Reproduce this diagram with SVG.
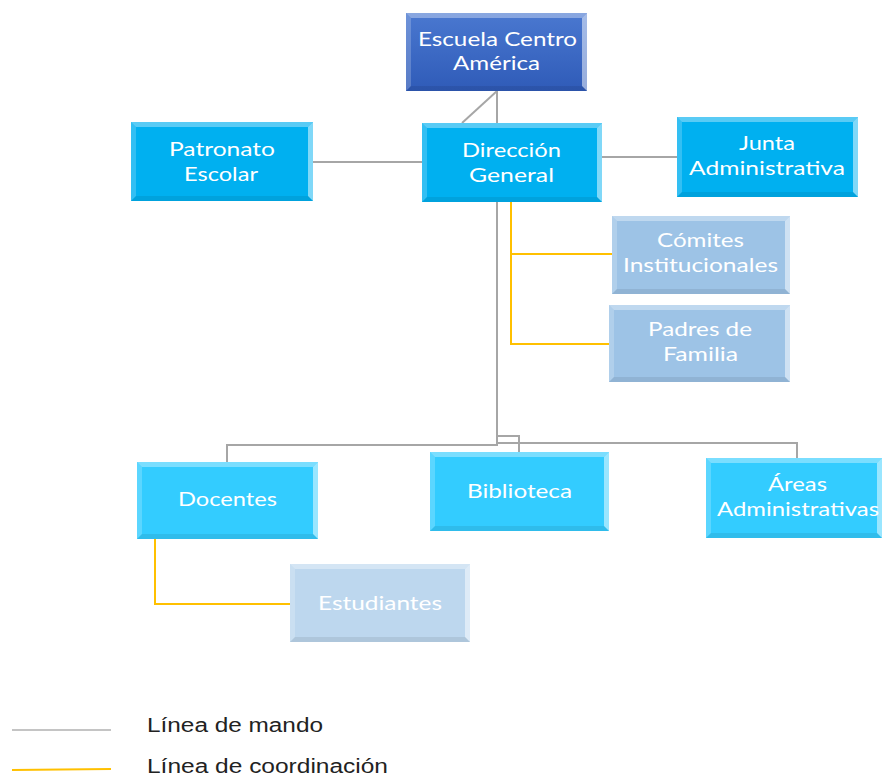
<svg xmlns="http://www.w3.org/2000/svg" width="882" height="777" viewBox="0 0 882 777">
<style>
.lbl{font-family:Lato,"Open Sans",sans-serif;font-size:20px;fill:#ffffff;text-anchor:middle}
.cmd{stroke:#a6a6a6;stroke-width:2;fill:none}
.crd{stroke:#ffc000;stroke-width:2;fill:none}
.hi{fill:#ffffff;opacity:0.35}
.hi2{fill:#ffffff;opacity:0.2}
.hiR{fill:#ffffff;opacity:0.5}
.sh{fill:#000000;opacity:0.08}
.leg{font-family:"Liberation Sans",Arial,sans-serif;font-size:20px;fill:#222222}
</style>
<defs>
<linearGradient id="gDark" x1="0" y1="0" x2="0" y2="1">
<stop offset="0" stop-color="#4a78d0"/><stop offset="1" stop-color="#2f5bb8"/>
</linearGradient>
</defs>
<rect width="882" height="777" fill="#ffffff"/>
<g id="connectors">
<line class="cmd" x1="497" y1="91" x2="497" y2="123"/>
<line class="cmd" x1="497" y1="91" x2="462" y2="123"/>
<line class="cmd" x1="313" y1="162" x2="422" y2="162"/>
<line class="cmd" x1="602" y1="157" x2="677" y2="157"/>
<polyline class="cmd" points="497,202 497,445 227,445 227,462"/>
<polyline class="cmd" points="497,436 519,436 519,452"/>
<polyline class="cmd" points="497,443 797,443 797,459"/>
<polyline class="crd" points="511,202 511,344 609,344"/>
<line class="crd" x1="511" y1="254" x2="612" y2="254"/>
<polyline class="crd" points="155,539 155,604 290,604"/>
</g>
<g id="escuela">
<rect x="406" y="13" width="181" height="78" fill="url(#gDark)"/>
<path class="hi" d="M406,13 H587 L582,18 H411 Z"/>
<path class="hi2" d="M406,13 L411,18 V86 L406,91 Z"/>
<path class="hiR" d="M587,13 V91 L582,86 V18 Z"/>
<path class="sh" d="M406,91 H587 L582,86 H411 Z"/>
<text class="lbl" x="497.5" y="46" textLength="159" lengthAdjust="spacingAndGlyphs">Escuela Centro</text>
<text class="lbl" x="496.5" y="70" textLength="87" lengthAdjust="spacingAndGlyphs">América</text>
</g>
<g id="direccion">
<rect x="422" y="123" width="180" height="79" fill="#00b0f0"/>
<path class="hi" d="M422,123 H602 L597,128 H427 Z"/>
<path class="hi2" d="M422,123 L427,128 V197 L422,202 Z"/>
<path class="hiR" d="M602,123 V202 L597,197 V128 Z"/>
<path class="sh" d="M422,202 H602 L597,197 H427 Z"/>
<text class="lbl" x="511.5" y="157" textLength="99" lengthAdjust="spacingAndGlyphs">Dirección</text>
<text class="lbl" x="511.5" y="182" textLength="85" lengthAdjust="spacingAndGlyphs">General</text>
</g>
<g id="patronato">
<rect x="131" y="122" width="182" height="79" fill="#00b0f0"/>
<path class="hi" d="M131,122 H313 L308,127 H136 Z"/>
<path class="hi2" d="M131,122 L136,127 V196 L131,201 Z"/>
<path class="hiR" d="M313,122 V201 L308,196 V127 Z"/>
<path class="sh" d="M131,201 H313 L308,196 H136 Z"/>
<text class="lbl" x="222" y="156" textLength="106" lengthAdjust="spacingAndGlyphs">Patronato</text>
<text class="lbl" x="221" y="181" textLength="74" lengthAdjust="spacingAndGlyphs">Escolar</text>
</g>
<g id="junta">
<rect x="677" y="117" width="181" height="80" fill="#00b0f0"/>
<path class="hi" d="M677,117 H858 L853,122 H682 Z"/>
<path class="hi2" d="M677,117 L682,122 V192 L677,197 Z"/>
<path class="hiR" d="M858,117 V197 L853,192 V122 Z"/>
<path class="sh" d="M677,197 H858 L853,192 H682 Z"/>
<text class="lbl" x="767" y="150" textLength="56" lengthAdjust="spacingAndGlyphs">Junta</text>
<text class="lbl" x="767" y="175" textLength="156" lengthAdjust="spacingAndGlyphs">Administrativa</text>
</g>
<g id="comites">
<rect x="612" y="216" width="178" height="78" fill="#9dc3e6"/>
<path class="hi" d="M612,216 H790 L785,221 H617 Z"/>
<path class="hi2" d="M612,216 L617,221 V289 L612,294 Z"/>
<path class="hiR" d="M790,216 V294 L785,289 V221 Z"/>
<path class="sh" d="M612,294 H790 L785,289 H617 Z"/>
<text class="lbl" x="700.5" y="247" textLength="87" lengthAdjust="spacingAndGlyphs">Cómites</text>
<text class="lbl" x="700.5" y="272" textLength="155" lengthAdjust="spacingAndGlyphs">Institucionales</text>
</g>
<g id="padres">
<rect x="609" y="305" width="181" height="77" fill="#9dc3e6"/>
<path class="hi" d="M609,305 H790 L785,310 H614 Z"/>
<path class="hi2" d="M609,305 L614,310 V377 L609,382 Z"/>
<path class="hiR" d="M790,305 V382 L785,377 V310 Z"/>
<path class="sh" d="M609,382 H790 L785,377 H614 Z"/>
<text class="lbl" x="700" y="336" textLength="104" lengthAdjust="spacingAndGlyphs">Padres de</text>
<text class="lbl" x="700.5" y="361" textLength="75" lengthAdjust="spacingAndGlyphs">Familia</text>
</g>
<g id="docentes">
<rect x="137" y="462" width="181" height="77" fill="#33ccff"/>
<path class="hi" d="M137,462 H318 L313,467 H142 Z"/>
<path class="hi2" d="M137,462 L142,467 V534 L137,539 Z"/>
<path class="hiR" d="M318,462 V539 L313,534 V467 Z"/>
<path class="sh" d="M137,539 H318 L313,534 H142 Z"/>
<text class="lbl" x="227.5" y="506" textLength="99" lengthAdjust="spacingAndGlyphs">Docentes</text>
</g>
<g id="biblioteca">
<rect x="430" y="452" width="179" height="79" fill="#33ccff"/>
<path class="hi" d="M430,452 H609 L604,457 H435 Z"/>
<path class="hi2" d="M430,452 L435,457 V526 L430,531 Z"/>
<path class="hiR" d="M609,452 V531 L604,526 V457 Z"/>
<path class="sh" d="M430,531 H609 L604,526 H435 Z"/>
<text class="lbl" x="519.5" y="498" textLength="105" lengthAdjust="spacingAndGlyphs">Biblioteca</text>
</g>
<g id="areas">
<rect x="706" y="458" width="176" height="80" fill="#33ccff"/>
<path class="hi" d="M706,458 H882 L877,463 H711 Z"/>
<path class="hi2" d="M706,458 L711,463 V533 L706,538 Z"/>
<path class="hiR" d="M882,458 V538 L877,533 V463 Z"/>
<path class="sh" d="M706,538 H882 L877,533 H711 Z"/>
<text class="lbl" x="797.5" y="491" textLength="59" lengthAdjust="spacingAndGlyphs">Áreas</text>
<text class="lbl" x="798" y="516" textLength="162" lengthAdjust="spacingAndGlyphs">Administrativas</text>
</g>
<g id="estudiantes">
<rect x="290" y="564" width="180" height="78" fill="#bdd7ee"/>
<path class="hi" d="M290,564 H470 L465,569 H295 Z"/>
<path class="hi2" d="M290,564 L295,569 V637 L290,642 Z"/>
<path class="hiR" d="M470,564 V642 L465,637 V569 Z"/>
<path class="sh" d="M290,642 H470 L465,637 H295 Z"/>
<text class="lbl" x="380" y="610" textLength="124" lengthAdjust="spacingAndGlyphs">Estudiantes</text>
</g>
<g id="legend">
<line x1="12" y1="730" x2="111" y2="730" stroke="#b0b0b0" stroke-width="1.5"/>
<text class="leg" x="147" y="732" textLength="176" lengthAdjust="spacingAndGlyphs">Línea de mando</text>
<line x1="12" y1="770" x2="111" y2="769" stroke="#ffc000" stroke-width="2"/>
<text class="leg" x="147" y="773" textLength="241" lengthAdjust="spacingAndGlyphs">Línea de coordinación</text>
</g>
</svg>
